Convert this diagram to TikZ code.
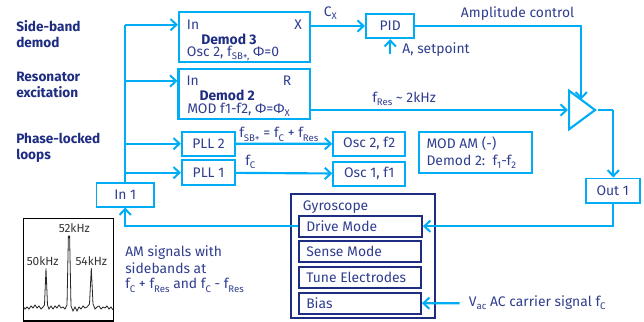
\documentclass[tikz,border=0pt]{standalone}
\usepackage{fontspec}
\setmainfont{Fira Sans}
\usepackage{xcolor}
\usetikzlibrary{arrows.meta,positioning,shapes.geometric,calc}
\definecolor{wire}{HTML}{00ADF5}
\definecolor{inkblue}{HTML}{2F3D8F}
\definecolor{deepblue}{HTML}{1E2C82}
\newcommand{\lowsub}[1]{\raisebox{-0.45ex}{\fontsize{7.2}{8}\selectfont #1}}
\tikzset{
    every node/.style={text=inkblue, font=\fontsize{10.4}{12}\selectfont, inner sep=0pt},
    boxsize/.style 2 args={minimum width=#1*0.75pt, minimum height=#2*0.75pt},
    sig/.style={draw=wire, line width=1.6pt, -{Straight Barb[length=4.5pt,width=8.5pt,line width=1.5pt]}},
    link/.style={draw=wire, line width=1.6pt},
    blockbox/.style={draw=wire, line width=1.6pt},
    thinbox/.style={draw=wire, line width=1.2pt},
    gyrobox/.style={draw=deepblue, line width=1.4pt},
    sidelabel/.style={text=deepblue, font=\fontsize{10.2}{12.2}\selectfont\bfseries, align=left, anchor=west},
    boldlbl/.style={anchor=west, text=deepblue, font=\fontsize{10.4}{12}\selectfont\bfseries},
    lbl/.style={anchor=west},
    peaktext/.style={text=black!80, font=\fontsize{8.9}{10}\selectfont}
}
\begin{document}
\begin{tikzpicture}[x=0.75pt,y=-0.75pt]
    \useasboundingbox (0,0) rectangle (644,322);

    % Side labels
    \node[sidelabel] (labside) at (16,34) {Side-band\\demod};
    \node[sidelabel] (labres) at (16,85) {Resonator\\excitation};
    \node[sidelabel] (labpll) at (16,148) {Phase-locked\\loops};

    % Demod blocks
    \node[blockbox, boxsize={131}{50}] (demodthree) at (244.5,37.3) {};
    \node[lbl] (demodthreein) at (186.7,24.7) {In};
    \node[lbl] (demodthreex) at (294,24.7) {X};
    \node[boldlbl] (demodthreename) at (201,39) {Demod 3};
    \node[lbl] (demodthreeosc) at (186.7,53.3) {Osc 2, f\lowsub{SB+,} Φ=0};
    \node[blockbox, boxsize={131.5}{50}] (demodtwo) at (244.3,94) {};
    \node[lbl] (demodtwoin) at (186.3,81) {In};
    \node[lbl] (demodtwor) at (282.7,81) {R};
    \node[boldlbl] (demodtwoname) at (199.3,95) {Demod 2};
    \node[lbl] (demodtwomod) at (187,110) {MOD f1-f2, Φ=Φ\lowsub{X}};

    % PLLs and oscillators
    \node[blockbox, boxsize={53}{24}] (plltwo) at (208.5,143.7) {PLL 2};
    \node[blockbox, boxsize={53}{24.7}] (pllone) at (208.5,172.7) {PLL 1};
    \node[blockbox, boxsize={71.7}{23.7}] (osctwo) at (369.2,143.8) {Osc 2, f2};
    \node[blockbox, boxsize={71.7}{24}] (oscone) at (369.2,173.7) {Osc 1, f1};
    \node[lbl] (fsb) at (239,134.3) {f\lowsub{SB+} = f\lowsub{C} + f\lowsub{Res}};
    \node[lbl] (fc) at (245,161.7) {f\lowsub{C}};

    % Inputs, outputs, amplifier
    \node[thinbox, boxsize={57.7}{24}] (inone) at (125.2,194.7) {In 1};
    \node[thinbox, boxsize={54}{24.7}] (outone) at (612.7,190.7) {Out 1};
    \node[blockbox, boxsize={48.3}{24}] (pid) at (390.2,26) {PID};
    \node[draw=wire, line width=1.6pt, isosceles triangle, isosceles triangle stretches,
        boxsize={38.6}{26}, anchor=west] (amp) at (568,110) {};
    \coordinate (amptop) at (581.3,99.5);
    \coordinate (setpointend) at (390.2,54);
    \coordinate (vacend) at (459.7,303.3);
    \coordinate (outbend) at (613.3,110);

    % Gyroscope
    \node[draw=deepblue, line width=1.7pt, boxsize={143.7}{124.6}] (gyro) at (362.8,256) {};
    \node[lbl] (gyrolabel) at (302.7,206.7) {Gyroscope};
    \node[gyrobox, boxsize={123}{21}] (drive) at (360.5,226.2) {};
    \node[lbl] (drivetext) at (306,226.2) {Drive Mode};
    \node[gyrobox, boxsize={122}{20.7}] (sense) at (360,251.3) {};
    \node[lbl] (sensetext) at (306,251.3) {Sense Mode};
    \node[gyrobox, boxsize={122}{21}] (tune) at (360,277.5) {};
    \node[lbl] (tunetext) at (306,277.5) {Tune Electrodes};
    \node[gyrobox, boxsize={122}{21}] (bias) at (360,303.2) {};
    \node[lbl] (biastext) at (306,303.2) {Bias};

    % Mod note
    \node[blockbox, boxsize={113.3}{41.3}] (modnote) at (475.3,152.7) {};
    \node[lbl] (modam) at (426.3,143.3) {MOD AM (-)};
    \node[lbl] (modtwo) at (426.3,161.5) {Demod 2:\ \ f\lowsub{1}-f\lowsub{2}};

    % Wire labels
    \node[lbl] (cx) at (323.7,13) {C\lowsub{X}};
    \node[lbl] (ampctl) at (460.7,14) {Amplitude control};
    \node[lbl] (setpoint) at (402,49.3) {A, setpoint};
    \node[lbl] (fres) at (372,98.7) {f\lowsub{Res} \textasciitilde{} 2kHz};
    \node[lbl] (vac) at (468.7,303) {V\lowsub{ac} AC carrier signal f\lowsub{C}};

    % Wires
    \draw[link] (inone.north) -- (inone.north |- demodthreein);
    \draw[sig] (inone.north |- demodthreein) -- (demodthree.west |- demodthreein);
    \draw[sig] (inone.north |- demodtwoin) -- (demodtwo.west |- demodtwoin);
    \draw[sig] (inone.north |- plltwo.west) -- (plltwo.west);
    \draw[sig] (inone.north |- pllone.west) -- (pllone.west);
    \draw[sig] (plltwo) -- (osctwo);
    \draw[sig] (pllone) -- (oscone);
    \draw[sig] (demodthree.east |- pid.west) -- (pid.west);
    \draw[sig] (setpointend) -- (pid.south);
    \draw[sig] (pid.east) -| (amptop);
    \draw[sig] (demodtwo.east |- amp.west) -- (amp.west);
    \draw[link] (amp.apex) -- (outbend);
    \draw[sig] (outbend) -- (outbend |- outone.north);
    \draw[sig] (outone.south) |- (drive.east);
    \draw[sig] (drive.west) -| (inone.south);
    \draw[sig] (vacend) -- (bias.east);

    % Spectrum
    \node[draw=black, line width=0.9pt, boxsize={90}{102.7}] (spectrum) at (68.3,269.7) {};
    \node[peaktext] (peakc) at (74.3,227.7) {52kHz};
    \node[peaktext] (peakl) at (42.7,261) {50kHz};
    \node[peaktext] (peakr) at (91.3,261) {54kHz};
    \draw[black!85, line width=0.6pt] plot coordinates {(23.5,307) (25,309) (27,307) (29,309) (31,306) (33,308)
        (35,305) (37,308) (39,306) (41,309) (43,307) (44.5,305) (46,268.5) (47.5,305) (49,309) (51,306)
        (53,309) (55,306) (57,308) (59,305) (61,308) (63,307) (65,309) (67,305) (68.4,236) (69.6,236)
        (71,306) (73,311) (75,307) (77,311) (79,307) (81,309) (83,306) (85,308) (87,307) (89.5,304)
        (91.3,268) (93,304) (95,309) (97,307) (99,306) (101,309) (103,307) (105,308) (107,306) (109,309)
        (111,307) (113,310)};

    % Spectrum note
    \node[lbl] (amnote) at (125,252.7) {AM signals with};
    \node[lbl] (amnotetwo) at (125,268.5) {sidebands at};
    \node[lbl] (amnotethree) at (125,285.3) {f\lowsub{C} + f\lowsub{Res} and f\lowsub{C} - f\lowsub{Res}};
\end{tikzpicture}
\end{document}
